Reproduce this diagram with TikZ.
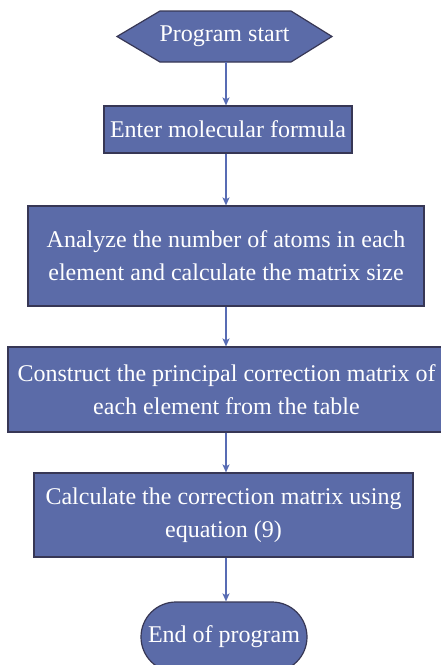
\documentclass[tikz,border=0pt]{standalone}
\usepackage{fontspec}
\setmainfont{Liberation Serif}
\usetikzlibrary{shapes.misc,arrows.meta}
\definecolor{boxfill}{RGB}{91,107,168}
\definecolor{boxline}{RGB}{55,55,85}
\definecolor{arrowc}{RGB}{88,108,180}
\begin{document}
\begin{tikzpicture}[x=1pt,y=-1pt,
  txt/.style={text=white, font=\fontsize{24}{33}\selectfont, align=center, inner sep=0pt},
  box/.style={txt, draw=boxline, fill=boxfill, line width=1.2pt},
  flow/.style={draw=arrowc, line width=1.3pt, -{Stealth[length=8pt,width=7pt,inset=2pt]}}]
\useasboundingbox (0,0) rectangle (440,665);
\fill[white] (0,0) rectangle (440,665);
\coordinate (ax) at (226,0);
% start hexagon
\path[draw=boxline, fill=boxfill, line width=1.2pt]
  (117,36.5) -- (160,11) -- (291,11) -- (332,36.5) -- (291,62) -- (160,62) -- cycle;
\node[txt, minimum height=51pt] (start) at (224.5,36.5) {Program start};
\node[box, minimum width=248pt, minimum height=47pt] (enter) at (228,129.5) {Enter molecular formula};
\node[box, minimum width=396pt, minimum height=100pt] (analyze) at (226,256)
  {Analyze the number of atoms in each\\ element and calculate the matrix size};
\node[box, minimum width=437pt, minimum height=85pt] (construct) at (226.5,389.5)
  {Construct the principal correction matrix of\\ each element from the table};
\node[box, minimum width=379pt, minimum height=84pt] (calc) at (223.5,515)
  {Calculate the correction matrix using\\ equation (9)};
\node[box, rounded rectangle, minimum width=166pt, minimum height=70pt] (end) at (224,637) {End of program};
\draw[flow] (start.south -| ax) -- (enter.north -| ax);
\draw[flow] (enter.south -| ax) -- (analyze.north -| ax);
\draw[flow] (analyze.south -| ax) -- (construct.north -| ax);
\draw[flow] (construct.south -| ax) -- (calc.north -| ax);
\draw[flow] (calc.south -| ax) -- (end.north -| ax);
\end{tikzpicture}
\end{document}
